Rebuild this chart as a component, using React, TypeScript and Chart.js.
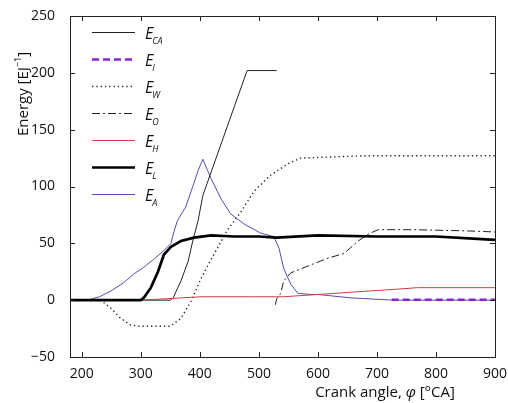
import React, { useEffect, useRef } from "react";
import { Chart, registerables } from "chart.js";

Chart.register(...registerables);

// ---- Data (crank angle in °CA, energy in EJ^-1) ----
const caAngle = [180, 350, 355, 360, 368, 380, 388, 397, 405, 480, 530];
const caEnergy = [0, 0, 2, 8, 17, 34, 52, 70, 92, 202, 202];

const iAngle = [725, 900];
const iEnergy = [0.3, 0.3];

const wAngle = [180, 232, 249, 266, 283, 300, 350, 368, 385, 402, 419, 430, 447, 470, 492, 520, 549, 571, 622, 678, 900];
const wEnergy = [0, 0, -7, -16, -22, -23, -23, -16, -1, 19, 36, 46, 62, 78, 96, 110, 120, 125, 126, 127, 127];

const oAngle = [528, 530, 537, 542, 554, 583, 617, 644, 668, 685, 702, 760, 850, 900];
const oEnergy = [-4, 1, 6, 17, 24, 30, 37, 41, 52, 58, 62, 62, 61, 60];

const hAngle = [180, 300, 368, 402, 486, 542, 600, 656, 729, 769, 900];
const hEnergy = [0, 0, 2, 3, 3, 3, 5, 7, 9.5, 11, 11];

const lAngle = [180, 300, 305, 317, 329, 339, 351, 368, 390, 419, 458, 500, 530, 600, 700, 800, 870, 900];
const lEnergy = [0, 0, 2, 11, 25, 40, 47, 52, 55, 57, 56, 56, 55, 57, 56, 56, 54, 53];

const aAngle = [180, 210, 230, 249, 270, 288, 305, 322, 340, 351, 356, 362, 376, 388, 397, 405, 419, 436, 452, 475, 503, 525, 534, 542, 554, 566, 588, 600, 656, 729, 900];
const aEnergy = [0, 0, 3, 8, 15, 23, 29, 36, 44, 50, 60, 70, 82, 100, 114, 124, 107, 89, 76, 67, 59, 56, 46, 28, 14, 6, 5, 5, 2, 0, 0];

const xTicks = [200, 300, 400, 500, 600, 700, 800, 900];
const yTicks = [-50, 0, 50, 100, 150, 200, 250];

const legendSubs = ["CA", "I", "W", "O", "H", "L", "A"];

const pts = (xs: number[], ys: number[]) => xs.map((x, i) => ({ x, y: ys[i] }));

const FONT = "'Open Sans', 'Noto Sans', sans-serif";

const styles = [
  { color: "#222222", width: 1, dash: [] as number[] },
  { color: "#8a22d8", width: 2.5, dash: [7, 4] },
  { color: "#222222", width: 1.4, dash: [1.3, 3] },
  { color: "#222222", width: 1, dash: [8, 3, 2, 3] },
  { color: "#d23c3c", width: 1, dash: [] as number[] },
  { color: "#000000", width: 2.7, dash: [] as number[] },
  { color: "#5050b0", width: 1, dash: [] as number[] },
];

const decorPlugin = {
  id: "decor",
  afterDraw(chart: any) {
    const ctx = chart.ctx;
    const { left, right, top, bottom } = chart.chartArea;
    const xs = chart.scales.x;
    const ys = chart.scales.y;
    ctx.save();
    // box
    ctx.strokeStyle = "#222";
    ctx.lineWidth = 1;
    ctx.setLineDash([]);
    ctx.strokeRect(Math.round(left) + 0.5, Math.round(top) + 0.5, Math.round(right - left), Math.round(bottom - top));
    // inward ticks
    const tl = 5;
    ctx.beginPath();
    xTicks.forEach((v) => {
      const px = Math.round(xs.getPixelForValue(v)) + 0.5;
      ctx.moveTo(px, bottom);
      ctx.lineTo(px, bottom - tl);
      ctx.moveTo(px, top);
      ctx.lineTo(px, top + tl);
    });
    yTicks.forEach((v) => {
      const py = Math.round(ys.getPixelForValue(v)) + 0.5;
      ctx.moveTo(left, py);
      ctx.lineTo(left + tl, py);
      ctx.moveTo(right, py);
      ctx.lineTo(right - tl, py);
    });
    ctx.stroke();

    // legend
    const lx0 = 92, lx1 = 135, tx = 145;
    legendSubs.forEach((sub, i) => {
      const y = 32 + i * 27;
      const st = styles[i];
      ctx.beginPath();
      ctx.strokeStyle = st.color;
      ctx.lineWidth = st.width;
      ctx.setLineDash(st.dash);
      ctx.moveTo(lx0, y + 0.5);
      ctx.lineTo(lx1, y + 0.5);
      ctx.stroke();
      ctx.setLineDash([]);
      ctx.fillStyle = "#111";
      ctx.textBaseline = "alphabetic";
      ctx.textAlign = "left";
      ctx.font = `italic 16px ${FONT}`;
      ctx.fillText("E", tx, y + 7);
      const w = ctx.measureText("E").width;
      ctx.font = `italic 9px ${FONT}`;
      ctx.fillText(sub, tx + w - 1, y + 12);
    });

    // y title
    ctx.save();
    ctx.translate(28, 94);
    ctx.rotate(-Math.PI / 2);
    ctx.fillStyle = "#111";
    ctx.textBaseline = "alphabetic";
    const p1 = "Energy [EJ";
    const p3 = "]";
    ctx.font = `15px ${FONT}`;
    const w1 = ctx.measureText(p1).width;
    ctx.font = `9px ${FONT}`;
    const w2 = ctx.measureText("\u22121").width;
    ctx.font = `15px ${FONT}`;
    const w3 = ctx.measureText(p3).width;
    const total = w1 + w2 + w3;
    let cx = -total / 2;
    ctx.textAlign = "left";
    ctx.fillText(p1, cx, 0);
    cx += w1;
    ctx.font = `9px ${FONT}`;
    ctx.fillText("\u22121", cx, -7);
    cx += w2;
    ctx.font = `15px ${FONT}`;
    ctx.fillText(p3, cx, 0);
    ctx.restore();

    // x title
    ctx.fillStyle = "#111";
    ctx.textBaseline = "alphabetic";
    ctx.textAlign = "left";
    const a = "Crank angle, ";
    const b = "\u03c6";
    const c = " [\u00b0CA]";
    ctx.font = `15px ${FONT}`;
    const wa = ctx.measureText(a).width;
    const wc = ctx.measureText(c).width;
    ctx.font = `italic 15px ${FONT}`;
    const wb = ctx.measureText(b).width;
    let x = 385 - (wa + wb + wc) / 2;
    ctx.font = `15px ${FONT}`;
    ctx.fillText(a, x, 397);
    x += wa;
    ctx.font = `italic 15px ${FONT}`;
    ctx.fillText(b, x, 397);
    x += wb;
    ctx.font = `15px ${FONT}`;
    ctx.fillText(c, x, 397);

    ctx.restore();
  },
};

export default function App() {
  const ref = useRef<HTMLCanvasElement>(null);
  useEffect(() => {
    document.body.style.margin = "0";
    const series = [
      pts(caAngle, caEnergy),
      pts(iAngle, iEnergy),
      pts(wAngle, wEnergy),
      pts(oAngle, oEnergy),
      pts(hAngle, hEnergy),
      pts(lAngle, lEnergy),
      pts(aAngle, aEnergy),
    ];
    const drawOrder = [3, 4, 7, 5, 2, 1, 6]; // higher drawn first
    const chart = new Chart(ref.current!, {
      type: "line",
      data: {
        datasets: series.map((d, i) => ({
          label: "E" + legendSubs[i],
          data: d,
          borderColor: styles[i].color,
          borderWidth: styles[i].width,
          borderDash: styles[i].dash,
          pointRadius: 0,
          tension: 0,
          fill: false,
          order: drawOrder[i],
        })),
      },
      options: {
        animation: false,
        responsive: false,
        events: [],
        layout: { padding: { left: 0, top: 16, right: 12, bottom: 0 } },
        plugins: { legend: { display: false }, tooltip: { enabled: false } },
        scales: {
          x: {
            type: "linear",
            min: 180,
            max: 900,
            grid: { display: false },
            border: { display: false },
            afterFit: (s: any) => {
              s.height = 46;
            },
            afterBuildTicks: (s: any) => {
              s.ticks = xTicks.map((v) => ({ value: v }));
            },
            ticks: { color: "#111", font: { family: FONT, size: 14 }, padding: 1, maxRotation: 0, autoSkip: false },
          },
          y: {
            type: "linear",
            min: -50,
            max: 250,
            grid: { display: false },
            border: { display: false },
            afterFit: (s: any) => {
              s.width = 70;
            },
            afterBuildTicks: (s: any) => {
              s.ticks = yTicks.map((v) => ({ value: v }));
            },
            ticks: {
              color: "#111",
              font: { family: FONT, size: 14 },
              padding: 7,
              autoSkip: false,
              callback: (v: any) => (Number(v) < 0 ? "\u2212" + Math.abs(Number(v)) : String(v)),
            },
          },
        },
      },
      plugins: [decorPlugin],
    });
    return () => chart.destroy();
  }, []);
  return (
    <div style={{ width: 508, height: 403, background: "#fff" }}>
      <canvas ref={ref} width={508} height={403} style={{ display: "block" }} />
    </div>
  );
}
